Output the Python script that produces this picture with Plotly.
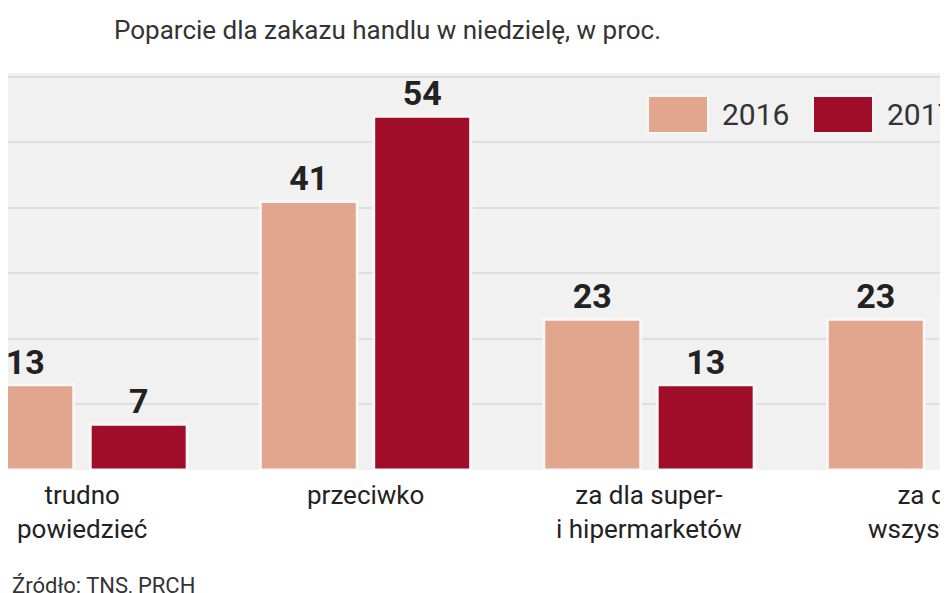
import plotly.graph_objects as go

categories = ["trudno<br>powiedzieć", "przeciwko", "za dla super-<br>i hipermarketów", "za dla<br>wszystkich"]
years = ["2016", "2017"]
v2016 = [13, 41, 23, 23]
v2017 = [7, 54, 13, 26]
colors = ["#e2a68f", "#a00d29"]

W, H = 948, 593
L, R, T, B = 0, 0, 65, 131
pw, ph = W - L - R, H - T - B
def px(x): return (x - L) / pw
def py(y): return (H - B - y) / ph

x = list(range(len(categories)))
fig = go.Figure()
for vals, off, c, name in [(v2016, -0.371, colors[0], years[0]), (v2017, 0.029, colors[1], years[1])]:
    fig.add_trace(go.Bar(x=x, y=vals, width=0.342, offset=off, marker=dict(color=c, line=dict(color="#f7f7f7", width=3)),
                         text=[f"<b>{v}</b>" for v in vals], textposition="outside", cliponaxis=False,
                         textfont=dict(family="Roboto", size=34, color="#222"), name=name, showlegend=False))

fig.update_layout(
    width=W, height=H, margin=dict(l=L, r=R, t=T, b=B, autoexpand=False),
    paper_bgcolor="white", plot_bgcolor="#f1f1f1",
    xaxis=dict(range=[-0.261, 3.083], showticklabels=False, showgrid=False, zeroline=False, automargin=False),
    yaxis=dict(range=[0, 60.6], dtick=10, showticklabels=False, gridcolor="#dedede", gridwidth=1.5, zeroline=False, automargin=False),
    font=dict(family="Roboto"),
)
for i, cat in enumerate(categories):
    fig.add_annotation(x=i, y=0, xref="x", yref="paper", yanchor="top", yshift=-8, text=cat, showarrow=False,
                       font=dict(family="Roboto", size=26, color="#222"))
fig.add_annotation(x=px(655), y=py(22), xref="paper", yref="paper", xanchor="right", yanchor="middle",
                   text="Poparcie dla zakazu handlu w niedzielę, w proc.", showarrow=False,
                   font=dict(family="Roboto", size=26, color="#333"))
fig.add_annotation(x=px(2), y=py(577), xref="paper", yref="paper", xanchor="left", yanchor="middle",
                   text="Źródło: TNS, PRCH", showarrow=False, font=dict(family="Roboto", size=22, color="#333"))
for (x0, x1, tx, c, name) in [(640, 700, 712, colors[0], years[0]), (805, 865, 877, colors[1], years[1])]:
    fig.add_shape(type="rect", xref="paper", yref="paper", x0=px(x0), x1=px(x1), y0=py(125), y1=py(88),
                  fillcolor=c, line=dict(color="#f7f7f7", width=2))
    fig.add_annotation(x=px(tx), y=py(106), xref="paper", yref="paper", xanchor="left", yanchor="middle",
                       text=name, showarrow=False, font=dict(family="Roboto", size=30, color="#333"))
fig.write_html("out.html")
